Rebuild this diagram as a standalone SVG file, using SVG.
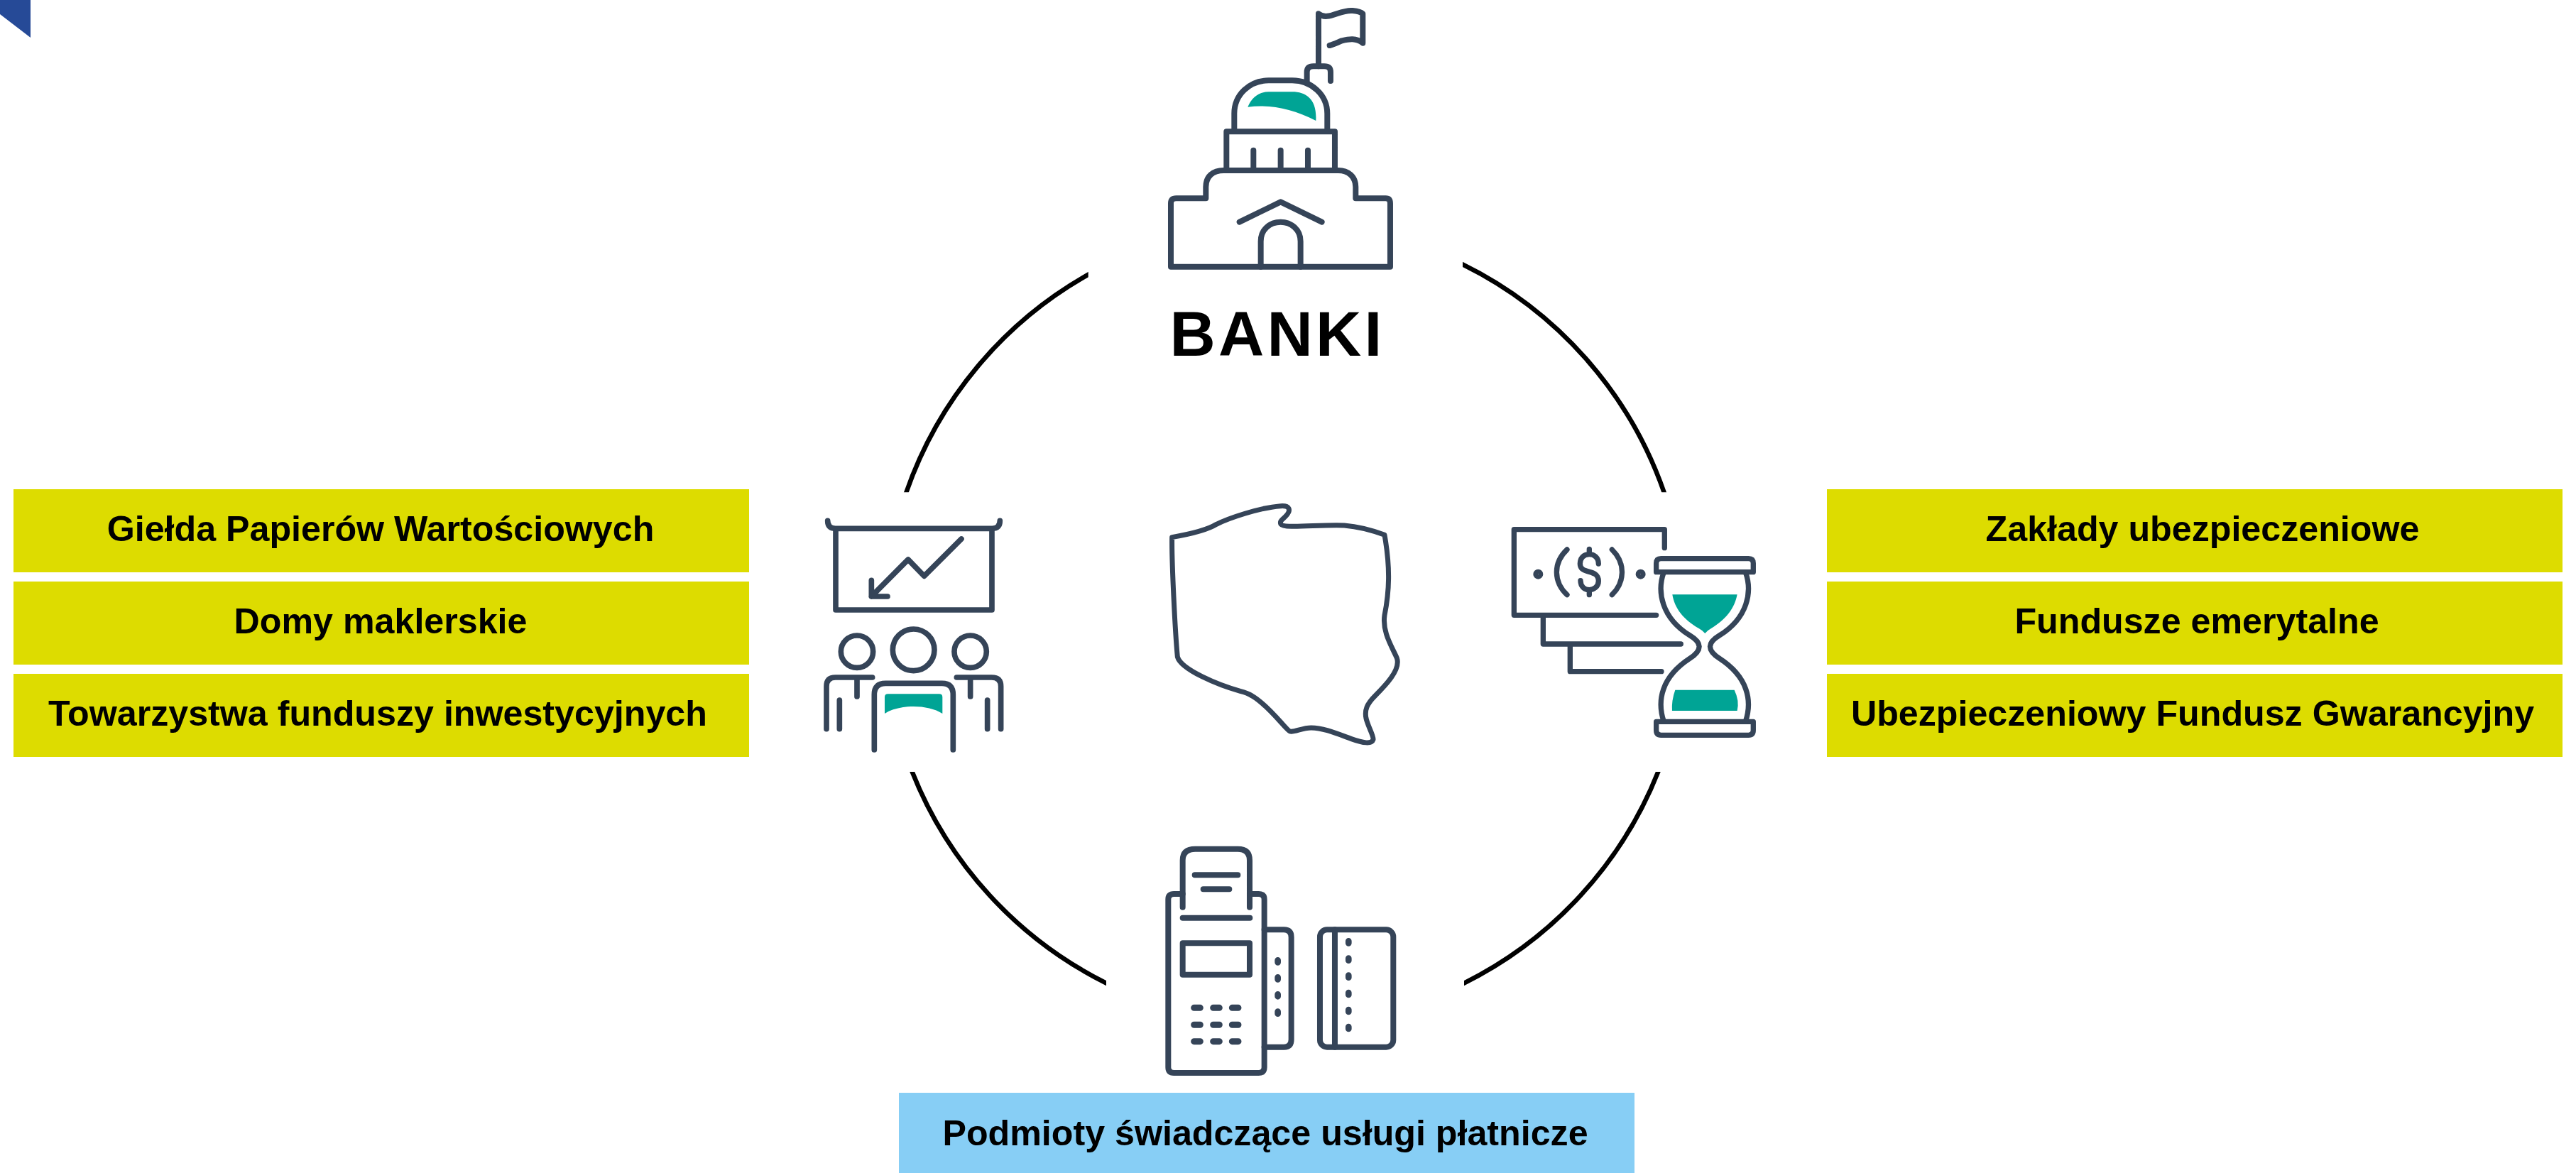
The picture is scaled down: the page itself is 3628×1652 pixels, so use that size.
<svg xmlns="http://www.w3.org/2000/svg" width="3628" height="1652" viewBox="0 0 3628 1652">
<style>
text{font-family:"Liberation Sans",Arial,sans-serif;font-weight:700;fill:#000;text-anchor:middle}
.l{font-size:50.2px}
.y{fill:#dddc00}
.b{fill:#87cef5}
.i{fill:none;stroke:#354458;stroke-linecap:round;stroke-linejoin:round}
.t{fill:#00a495}
.a{fill:none;stroke:#000;stroke-width:6.5}
</style>
<defs>
<clipPath id="arc-clip"><path d="M1200,300 H1532.7 V693.3 H1200Z M2060,300 H2420 V693.3 H2060Z M1200,1087 H1558 V1450 H1200Z M2062,1087 H2420 V1450 H2062Z"/></clipPath>
</defs>
<rect width="3628" height="1652" fill="#fff"/>
<polygon id="corner" points="0,0 43,0 43,53 0,20" fill="#264a97"/>
<g id="connectors" clip-path="url(#arc-clip)">
<path class="a" d="M1540,382.7 A565,565 0 0 0 1274.1,700"/>
<path class="a" d="M2053,369 A565,565 0 0 1 2345.9,700"/>
<path class="a" d="M1282,1080 A565,565 0 0 0 1565,1388"/>
<path class="a" d="M2338,1080 A565,565 0 0 1 2055,1388"/>
</g>
<g id="banki">
<g transform="translate(1600,0) scale(.3333)">
<path class="t" d="M472,452 C490,410 520,388 560,388 H660 C720,388 765,420 760,510 C660,460 570,440 472,452Z"/>
<g class="i" stroke-width="24">
<path d="M771,280 V58 C810,90 860,40 915,45 C935,47 950,50 958,58 V182 C930,160 900,165 870,172 C850,180 835,188 818,192"/>
<path d="M722,345 V305 Q722,280 750,280 H795 Q822,280 822,305 V342"/>
<path d="M415,555 V480 C415,400 480,340 560,340 H660 C740,340 808,400 808,480 V555"/>
<path d="M382,720 V556 H840 V720 M496,635 V720 M611,635 V720 M726,635 V720"/>
<path d="M295,838 V790 C295,745 325,720 370,720 H855 C895,720 928,745 928,790 V838 H1055 Q1074,838 1074,860 V1127 H147 V860 Q147,838 170,838 H295"/>
<path d="M437,938 L611,853 L785,938 M527,1127 V1020 C527,970 565,938 611,938 C655,938 695,970 695,1020 V1127"/>
</g>
</g>
<text x="1799" y="501" font-size="89" letter-spacing="4.2">BANKI</text>
</g>
<g id="left-icon">
<g transform="translate(1130,700) scale(.3333)">
<path class="t" d="M348,915 V845 Q348,832 362,832 H578 Q592,832 592,845 V915 C530,875 410,875 348,915Z"/>
<g class="i" stroke-width="23">
<path d="M107,100 Q107,133 140,133 H802 Q835,133 835,100 M141,133 V477 H801 V133"/>
<path d="M672,177 L515,334 L447,264 L292,420 M292,352 V420 H360"/>
<circle cx="470" cy="646" r="88"/><circle cx="231" cy="653" r="68"/><circle cx="710" cy="653" r="68"/>
<path d="M102,980 V800 Q102,762 140,762 H296 M231,762 V843 M157,858 V980"/>
<path d="M839,980 V800 Q839,762 800,762 H652 M710,762 V843 M782,858 V980"/>
<path d="M304,1068 V835 Q304,787 352,787 H590 Q637,787 637,835 V1068"/>
</g>
</g>
</g>
<g id="right-icon">
<g transform="translate(2100,720) scale(.3333)">
<path class="t" d="M766,352 H1040 C1030,410 990,460 930,495 Q915,503 904,516 Q893,503 878,495 C815,460 775,410 766,352Z"/>
<path class="t" d="M778,755 H1028 Q1050,800 1040,843 H765 Q762,800 778,755Z"/>
<g class="i" stroke-width="22">
<path d="M733,155 V77 H97 V439 H698 M220,439 V561 H802 M334,561 V677 H720"/>
<circle cx="199" cy="266" r="10"/><circle cx="632" cy="266" r="10"/>
<path d="M321,162 C260,220 265,300 321,353 M511,162 C570,220 565,300 511,353"/>
<path d="M454,222 C454,195 435,182 415,182 C390,182 376,200 376,222 C376,270 454,240 454,295 C454,318 435,332 415,332 C395,332 378,318 378,293 M415,160 V182 M415,332 V353"/>
<path d="M698,257 V220 Q698,200 718,200 H1088 Q1108,200 1108,220 V257Z M698,889 H1108 V925 Q1108,946 1088,946 H718 Q698,946 698,925Z"/>
<path d="M730,257 C700,340 720,450 840,525 C890,555 895,585 840,622 C720,700 700,800 730,889 M1075,257 C1105,340 1085,450 965,525 C915,555 910,585 965,622 C1085,700 1105,800 1075,889"/>
</g>
</g>
</g>
<g id="bottom-icon">
<g transform="translate(1620,1170) scale(.3333)" class="i" stroke-width="24">
<path d="M137,323 V125 Q137,77 190,77 H370 Q420,77 420,125 V323 M188,187 H370 M224,247 H334 M137,368 H421"/>
<path d="M137,267 H100 Q76,267 76,290 V1000 Q76,1023 100,1023 H458 Q482,1023 482,1000 V290 Q482,267 458,267 H420"/>
<rect x="137" y="475" width="283" height="133"/>
<path stroke-width="27" d="M185,748 H211 M266,748 H292 M346,748 H372 M185,820 H211 M266,820 H292 M346,820 H372 M185,890 H211 M266,890 H292 M346,890 H372"/>
<path d="M482,418 H565 Q596,418 596,450 V882 Q596,914 565,914 H482"/>
<path stroke-width="26" d="M539,547 V556 M539,619 V628 M539,691 V700 M539,764 V773"/>
<rect x="717" y="418" width="310" height="496" rx="30"/>
<path d="M780,418 V914"/>
<path stroke-width="26" d="M838,466 V475 M838,539 V548 M838,611 V620 M838,684 V693 M838,756 V765 M838,828 V837"/>
</g>
</g>
<g id="poland">
<path transform="translate(1630,690) scale(.3333)" class="i" stroke-width="21" d="M62,200 C120,190 210,170 250,145 C300,120 430,75 520,68 C560,65 565,85 545,108 C530,125 515,130 522,145 C535,165 690,145 790,150 C850,155 920,175 960,190 C985,330 980,430 960,530 C950,600 990,660 1012,710 C1030,760 960,830 920,870 C885,905 875,930 882,965 C890,1000 915,1040 912,1055 C905,1075 870,1070 820,1052 C760,1030 700,1005 650,1005 C610,1005 580,1025 560,1020 C545,1015 470,910 400,870 C385,860 370,855 350,850 C260,825 100,760 85,705 C75,600 60,300 62,200Z"/>
</g>
<g id="gielda"><rect class="y" x="19" y="689" width="1036" height="117"/><text class="l" x="536" y="762">Giełda Papierów Wartościowych</text></g>
<g id="domy"><rect class="y" x="19" y="819" width="1036" height="117"/><text class="l" x="536" y="892">Domy maklerskie</text></g>
<g id="tfi"><rect class="y" x="19" y="949" width="1036" height="117"/><text class="l" x="532" y="1022">Towarzystwa funduszy inwestycyjnych</text></g>
<g id="zaklady"><rect class="y" x="2573" y="689" width="1036" height="117"/><text class="l" x="3102" y="762">Zakłady ubezpieczeniowe</text></g>
<g id="fundusze"><rect class="y" x="2573" y="819" width="1036" height="117"/><text class="l" x="3094" y="892">Fundusze emerytalne</text></g>
<g id="ufg"><rect class="y" x="2573" y="949" width="1036" height="117"/><text class="l" x="3088" y="1022">Ubezpieczeniowy Fundusz Gwarancyjny</text></g>
<g id="podmioty"><rect class="b" x="1266" y="1539" width="1036" height="113"/><text class="l" x="1782" y="1613">Podmioty świadczące usługi płatnicze</text></g>
</svg>
